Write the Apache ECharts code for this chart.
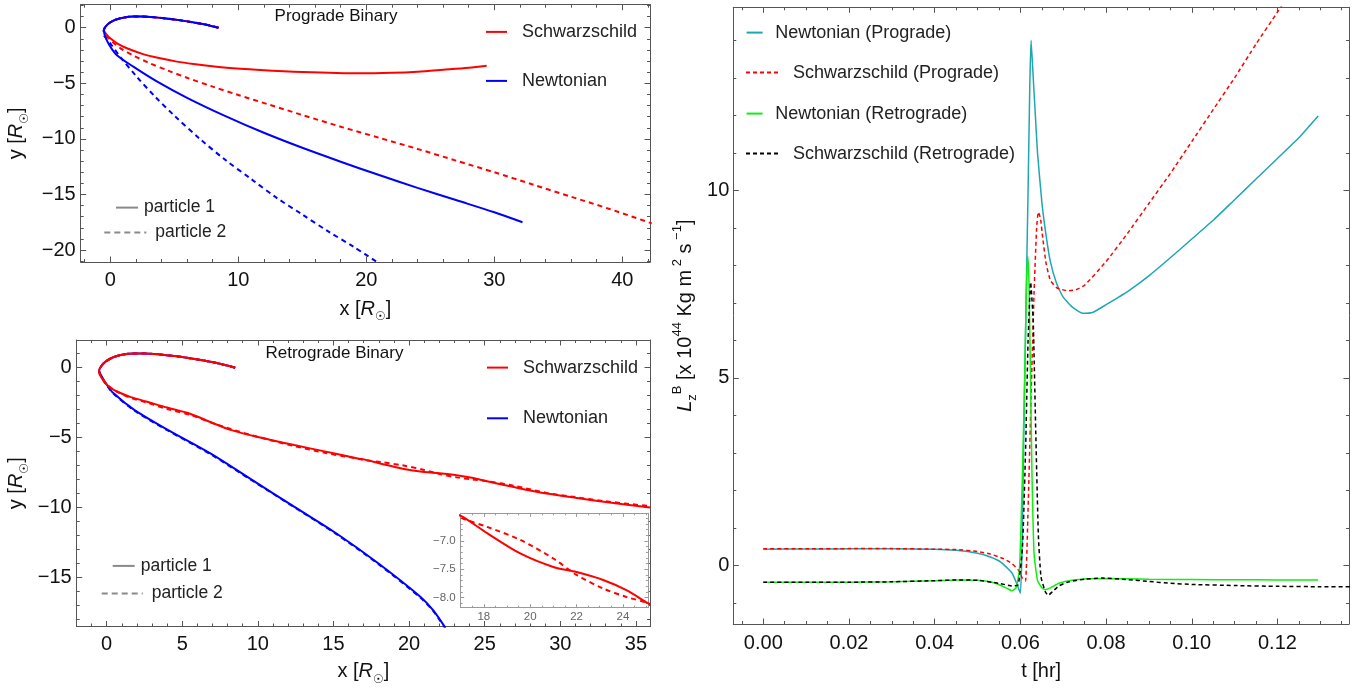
<!DOCTYPE html>
<html><head><meta charset="utf-8">
<script src="https://cdn.jsdelivr.net/npm/echarts@6/dist/echarts.min.js"></script>
<style>html,body{margin:0;padding:0;background:#fff}#c{width:1369px;height:690px}</style>
</head><body><div id="c"></div>
<script>
// ---------- DATA ----------
// Prograde binary trajectories [x, y] in R_sun (incoming arc shared by all, then outgoing branch)
const arcPro = [[8.45,0],[7.5,0.27],[6.5,0.48],[5.5,0.66],[4.5,0.81],[3.5,0.93],[2.5,1.0],[1.8,1.0],[1.0,0.9],[0.4,0.72],[-0.05,0.45],[-0.35,0.12],[-0.5,-0.2]];
const proSchw1 = [[-0.3,-0.6],[0,-0.95],[0.6,-1.45],[1.3,-1.85],[2.5,-2.35],[3.9,-2.75],[5.2,-3.05],[6.5,-3.26],[9.1,-3.6],[11.7,-3.8],[15,-3.98],[19.5,-4.1],[22,-4.05],[24,-3.95],[26,-3.78],[28,-3.6],[29.4,-3.42]];
const proSchw2 = [[-0.3,-0.7],[0.2,-1.3],[0.8,-1.85],[1.8,-2.5],[3,-3.15],[4.5,-3.85],[6,-4.5],[8,-5.3],[10,-6.05],[12.5,-6.95],[15,-7.85],[18,-8.9],[21,-9.9],[24,-10.9],[27,-11.95],[30,-13.0],[33,-14.1],[36,-15.2],[39,-16.3],[42.3,-17.6]];
const proNewt1 = [[-0.42,-0.7],[-0.1,-1.5],[0.5,-2.45],[1.8,-3.5],[3.6,-4.8],[6,-6.3],[9,-7.95],[12,-9.45],[15,-10.8],[18,-12.05],[21,-13.25],[24,-14.4],[27,-15.5],[30,-16.6],[32.2,-17.5]];
const proNewt2 = [[-0.55,-0.5],[-0.3,-1.0],[0,-1.4],[0.76,-2.6],[2.06,-4.4],[3.5,-6.2],[5,-7.9],[7,-10.0],[9,-11.9],[11,-13.6],[13,-15.3],[15,-16.8],[17,-18.3],[19,-19.7],[21,-21.2]];

// Retrograde binary trajectories
const arcRetro = [[8.5,0],[7.5,0.28],[6.5,0.5],[5.5,0.68],[4.5,0.83],[3.5,0.95],[2.5,1.02],[1.8,1.02],[1.0,0.92],[0.4,0.73],[-0.05,0.45],[-0.35,0.12],[-0.5,-0.2]];
const retSchw1 = [[-0.38,-0.64],[0.1,-1.3],[0.73,-1.72],[1.6,-2.1],[2.68,-2.43],[4,-2.85],[5.47,-3.27],[7,-3.95],[8.25,-4.46],[10,-4.95],[12.4,-5.53],[14.5,-6.0],[16.6,-6.49],[17.07,-6.57],[18.14,-6.86],[19.57,-7.22],[21.0,-7.46],[22.0,-7.55],[23.15,-7.69],[24.15,-7.87],[25.08,-8.1],[27,-8.55],[29.1,-9.0],[31,-9.3],[33,-9.6],[35.95,-10.0]];
const retSchw2 = [[-0.4,-0.6],[0.1,-1.28],[0.73,-1.75],[1.6,-2.15],[2.68,-2.5],[4,-2.95],[5.47,-3.35],[7,-3.95],[8.25,-4.4],[10,-4.95],[12.4,-5.6],[14.5,-6.1],[16.6,-6.5],[17.07,-6.6],[18.14,-6.75],[19.57,-6.98],[21.0,-7.31],[22.0,-7.6],[23.15,-7.84],[24.15,-7.99],[25.08,-8.1],[27,-8.45],[29.1,-8.95],[31,-9.25],[33,-9.55],[35.95,-9.9]];
const retNewt1 = [[-0.38,-0.52],[0.0,-1.2],[0.46,-1.83],[1.85,-3.03],[4.07,-4.46],[6.86,-6.13],[9.64,-8.04],[12.42,-9.95],[15.2,-11.85],[17.98,-14.0],[20.76,-16.39],[21.6,-17.35],[22.4,-18.6]];
const retNewt2 = [[-0.4,-0.55],[0.0,-1.25],[0.46,-1.86],[1.85,-3.08],[4.07,-4.5],[6.86,-6.18],[9.64,-8.08],[12.42,-9.98],[15.2,-11.9],[17.98,-14.05],[20.76,-16.45],[21.6,-17.4],[22.4,-18.65]];

// Angular momentum L_z^B (x 1e44) vs t [hr]
const tNewtPro = [0,0.01,0.02,0.03,0.04,0.045,0.05,0.053,0.0555,0.058,0.0592,0.06,0.0604,0.0608,0.0613,0.0618,0.0622,0.0625,0.063,0.0635,0.064,0.065,0.066,0.067,0.0685,0.07,0.072,0.0745,0.077,0.08,0.085,0.09,0.095,0.1,0.105,0.11,0.115,0.12,0.125,0.1295];
const lNewtPro = [0.43,0.435,0.44,0.44,0.43,0.40,0.32,0.22,0.08,-0.2,-0.5,-0.75,0.5,3.5,6.8,10.0,12.8,14.0,13.0,12.0,11.0,9.7,8.8,8.1,7.5,7.15,6.9,6.72,6.75,6.95,7.3,7.72,8.2,8.7,9.2,9.75,10.3,10.85,11.4,11.98];
const tSchwPro = [0,0.01,0.02,0.03,0.04,0.045,0.05,0.053,0.056,0.058,0.0595,0.0605,0.0612,0.0618,0.0625,0.0632,0.0638,0.0642,0.0647,0.0652,0.066,0.067,0.0685,0.071,0.073,0.075,0.08,0.085,0.09,0.095,0.1,0.105,0.11,0.115,0.12,0.125,0.13];
const lSchwPro = [0.44,0.44,0.445,0.445,0.43,0.42,0.37,0.3,0.18,0.05,-0.12,-0.35,-0.42,1.5,4.5,7.3,9.0,9.42,9.25,8.75,8.05,7.6,7.4,7.32,7.35,7.47,8.1,8.85,9.65,10.45,11.3,12.15,13.0,13.9,14.75,15.6,16.5];
const tNewtRet = [0,0.01,0.02,0.03,0.04,0.045,0.05,0.054,0.057,0.058,0.059,0.0598,0.0605,0.061,0.0614,0.0617,0.062,0.0623,0.0627,0.0632,0.064,0.065,0.0658,0.067,0.069,0.072,0.076,0.08,0.09,0.1,0.11,0.12,0.1295];
const lNewtRet = [-0.45,-0.45,-0.45,-0.44,-0.41,-0.39,-0.40,-0.47,-0.62,-0.68,-0.6,-0.1,2.5,5.0,7.3,8.25,7.6,5.5,2.5,0.3,-0.4,-0.6,-0.65,-0.6,-0.48,-0.4,-0.36,-0.35,-0.37,-0.38,-0.385,-0.39,-0.39];
const tSchwRet = [0,0.01,0.02,0.03,0.04,0.045,0.05,0.055,0.058,0.0595,0.0605,0.0612,0.0618,0.0624,0.063,0.0636,0.0642,0.0648,0.0658,0.0665,0.0675,0.069,0.071,0.075,0.079,0.085,0.09,0.095,0.1,0.11,0.12,0.13,0.137];
const lSchwRet = [-0.45,-0.45,-0.45,-0.44,-0.41,-0.39,-0.40,-0.48,-0.55,-0.52,0.5,3.0,6.0,7.55,6.5,3.5,0.8,-0.3,-0.7,-0.8,-0.7,-0.55,-0.45,-0.37,-0.34,-0.38,-0.43,-0.48,-0.51,-0.54,-0.56,-0.57,-0.57];

const titlePro = 'Prograde Binary';
const titleRet = 'Retrograde Binary';

// ---------- CHART ----------
const FONT = '"Liberation Sans", Arial, sans-serif';
const FRAME = '#555';
const LABEL = '#111';

function zip(t, v) { return t.map((x, i) => [x, v[i]]); }
function fmtNum(step, dec) {
  return function (v) {
    const k = v / step;
    if (Math.abs(k - Math.round(k)) > 1e-6) return '';
    const s = Math.abs(v).toFixed(dec);
    return (v < -1e-9 ? '\u2212' : '') + s;
  };
}
const nameRich = {
  a: { fontSize: 20, fontFamily: FONT, color: '#111', lineHeight: 28 },
  i: { fontSize: 20, fontFamily: FONT, fontStyle: 'italic', color: '#111', lineHeight: 28 },
  s: { fontSize: 12, fontFamily: 'DejaVu Sans', color: '#111', verticalAlign: 'bottom' },
  p: { fontSize: 13, fontFamily: FONT, color: '#111', verticalAlign: 'top' },
  b: { fontSize: 13, fontFamily: FONT, color: '#111', verticalAlign: 'bottom' }
};
function axis(o) {
  const fr = o.frame || FRAME;
  const a = {
    type: 'value', gridIndex: o.grid, position: o.pos, min: o.min, max: o.max,
    minInterval: o.step, maxInterval: o.step,
    splitNumber: Math.max(1, Math.round((o.max - o.min) / o.step)),
    z: o.z || 0,
    axisLine: { show: true, onZero: false, lineStyle: { color: fr, width: 1 } },
    axisTick: { show: true, inside: true, length: o.tickLen || 5.5, lineStyle: { color: fr, width: 1 } },
    minorTick: { show: true, splitNumber: o.minor, length: o.minorLen || 3, lineStyle: { color: fr, width: 1 } },
    splitLine: { show: false }, minorSplitLine: { show: false },
    axisPointer: { show: false },
    axisLabel: o.labels ? {
      show: true, formatter: fmtNum(o.step, o.dec || 0), color: o.labelColor || LABEL,
      fontSize: o.fontSize || 20, fontFamily: FONT, margin: o.margin,
      showMinLabel: true, showMaxLabel: true, hideOverlap: false
    } : { show: false }
  };
  if (o.name) {
    a.name = o.name; a.nameLocation = 'middle'; a.nameGap = o.nameGap;
    if (o.nameRotate != null) a.nameRotate = o.nameRotate;
    a.nameTextStyle = { fontSize: 20, fontFamily: FONT, color: '#111', rich: nameRich };
  }
  return a;
}
function line(name, data, ai, color, width, dash, z, smooth) {
  return {
    type: 'line', name, data, xAxisIndex: ai, yAxisIndex: ai, symbol: 'none', showSymbol: false,
    smooth: smooth == null ? 0.3 : smooth, lineStyle: { color, width, type: dash || 'solid' },
    itemStyle: { color }, z: z || 2, silent: true, animation: false, clip: true
  };
}
function leg(name, left, cy, iw, pad, fs) {
  return {
    show: true, data: [name], left, top: cy - 12, orient: 'horizontal', padding: 0,
    itemWidth: iw, itemHeight: 24, itemGap: 0, selectedMode: false,
    itemStyle: { opacity: 0 }, lineStyle: { width: 2 },
    textStyle: { fontSize: fs, fontFamily: FONT, color: '#222', padding: [0, 0, 0, pad] }
  };
}

const RED = '#ff0000', BLUE = '#0000ff', TEAL = '#1ea7b3', GREEN = '#10ee10', GRAY = '#8a8a8a';
const xyName = (c) => '{a|' + c + ' [}{i|R}{s|\u2609}{a|]}';

const xAxes = [
  axis({ grid: 0, pos: 'bottom', min: -2.31, max: 42.16, step: 10, minor: 5, labels: true, margin: 8, name: xyName('x'), nameGap: 33 }),
  axis({ grid: 0, pos: 'top', min: -2.31, max: 42.16, step: 10, minor: 5 }),
  axis({ grid: 1, pos: 'bottom', min: -1.98, max: 35.93, step: 5, minor: 5, labels: true, margin: 8, name: xyName('x'), nameGap: 31 }),
  axis({ grid: 1, pos: 'top', min: -1.98, max: 35.93, step: 5, minor: 5 }),
  axis({ grid: 2, pos: 'bottom', min: -0.007, max: 0.1367, step: 0.02, minor: 4, dec: 2, labels: true, margin: 9, name: '{a|t [hr]}', nameGap: 33 }),
  axis({ grid: 2, pos: 'top', min: -0.007, max: 0.1367, step: 0.02, minor: 4 }),
  axis({ grid: 3, pos: 'bottom', min: 17.0, max: 25.08, step: 2, minor: 4, labels: true, margin: 3, fontSize: 11.5, labelColor: '#666', frame: '#999', z: 11, tickLen: 3.5, minorLen: 2 }),
  axis({ grid: 3, pos: 'top', min: 17.0, max: 25.08, step: 2, minor: 4, frame: '#999', z: 11, tickLen: 3.5, minorLen: 2 })
];
const yAxes = [
  axis({ grid: 0, pos: 'left', min: -21.07, max: 2.07, step: 5, minor: 5, labels: true, margin: 5, name: xyName('y'), nameGap: 50, nameRotate: 90 }),
  axis({ grid: 0, pos: 'right', min: -21.07, max: 2.07, step: 5, minor: 5 }),
  axis({ grid: 1, pos: 'left', min: -18.5, max: 1.98, step: 5, minor: 5, labels: true, margin: 5, name: xyName('y'), nameGap: 46, nameRotate: 90 }),
  axis({ grid: 1, pos: 'right', min: -18.5, max: 1.98, step: 5, minor: 5 }),
  axis({ grid: 2, pos: 'left', min: -1.565, max: 14.88, step: 5, minor: 5, labels: true, margin: 4,
         name: '{i|L}{b|z}{p|B}{a| [x 10}{p|44}{a| Kg m}{p| 2}{a| s}{p| \u22121}{a|]}', nameGap: 34, nameRotate: 90 }),
  axis({ grid: 2, pos: 'right', min: -1.565, max: 14.88, step: 5, minor: 5 }),
  axis({ grid: 3, pos: 'left', min: -8.18, max: -6.51, step: 0.5, minor: 5, dec: 1, labels: true, margin: 5, fontSize: 11.5, labelColor: '#666', frame: '#999', z: 11, tickLen: 3.5, minorLen: 2 }),
  axis({ grid: 3, pos: 'right', min: -8.18, max: -6.51, step: 0.5, minor: 5, frame: '#999', z: 11, tickLen: 3.5, minorLen: 2 })
];
const series = [
  // prograde
  line('Schwarzschild p2', arcPro.concat(proSchw2), 0, RED, 2, [5, 4]),
  line('Schwarzschild', arcPro.concat(proSchw1), 0, RED, 2),
  line('Newtonian p2', arcPro.concat(proNewt2), 0, BLUE, 2, [5, 4]),
  line('Newtonian', arcPro.concat(proNewt1), 0, BLUE, 2),
  line('particle 1', [], 0, GRAY, 2),
  line('particle 2', [], 0, GRAY, 2, [6, 4]),
  // retrograde
  line('Newtonian', arcRetro.concat(retNewt1), 2, BLUE, 2),
  line('Newtonian p2', arcRetro.concat(retNewt2), 2, BLUE, 2, [5, 4]),
  line('Schwarzschild', arcRetro.concat(retSchw1), 2, RED, 2),
  line('Schwarzschild p2', arcRetro.concat(retSchw2), 2, RED, 2, [5, 4]),
  // inset
  line('Schwarzschild', retSchw1, 6, RED, 2, null, 12),
  line('Schwarzschild p2', retSchw2, 6, RED, 2, [5, 4], 12),
  // angular momentum
  line('Newtonian (Prograde)', zip(tNewtPro, lNewtPro), 4, TEAL, 1.5, null, 2, 0.15),
  line('Schwarzschild (Prograde)', zip(tSchwPro, lSchwPro), 4, RED, 1.5, [4, 3], 2, 0.15),
  line('Newtonian (Retrograde)', zip(tNewtRet, lNewtRet), 4, GREEN, 1.5, null, 2, 0.15),
  line('Schwarzschild (Retrograde)', zip(tSchwRet, lSchwRet), 4, '#000', 1.5, [4, 3], 2, 0.15)
];

const option = {
  animation: false,
  backgroundColor: '#fff',
  grid: [
    { left: 80.7, top: 4.7, width: 569.3, height: 257.3 },
    { left: 76.7, top: 340, width: 573.3, height: 286.5 },
    { left: 733.3, top: 7.3, width: 615.7, height: 616.7 },
    { left: 460.7, top: 513.3, width: 187.2, height: 94.4, show: true, backgroundColor: '#fff', borderWidth: 0, z: 10 }
  ],
  xAxis: xAxes,
  yAxis: yAxes,
  legend: [
    leg('Schwarzschild', 485, 34.3, 21, 10, 18),
    leg('Newtonian', 485, 83.3, 21, 10, 18),
    leg('particle 1', 115, 210, 22, 1, 17.5),
    leg('particle 2', 103.3, 235, 42, 4, 17.5),
    leg('Schwarzschild', 486, 370, 21, 10, 18),
    leg('Newtonian', 486, 420.7, 21, 10, 18),
    leg('particle 1', 111.7, 568.3, 22, 1, 17.5),
    leg('particle 2', 100.7, 596, 41, 4, 17.5),
    leg('Newtonian (Prograde)', 745, 35, 16, 7.6, 18),
    leg('Schwarzschild (Prograde)', 745, 75, 32.5, 9.5, 18),
    leg('Newtonian (Retrograde)', 745, 116, 16, 7.6, 18),
    leg('Schwarzschild (Retrograde)', 745, 156, 32.5, 9.5, 18)
  ],
  graphic: [
    { type: 'text', x: 336, y: 16.7, z: 20, style: { text: titlePro, fontSize: 17, fontFamily: FONT, fill: '#111', align: 'center', verticalAlign: 'middle' } },
    { type: 'text', x: 334.4, y: 353.3, z: 20, style: { text: titleRet, fontSize: 17, fontFamily: FONT, fill: '#111', align: 'center', verticalAlign: 'middle' } }
  ],
  series
};
const chart = echarts.init(document.getElementById('c'), null, { renderer: 'canvas' });
chart.setOption(option);
</script></body></html>
